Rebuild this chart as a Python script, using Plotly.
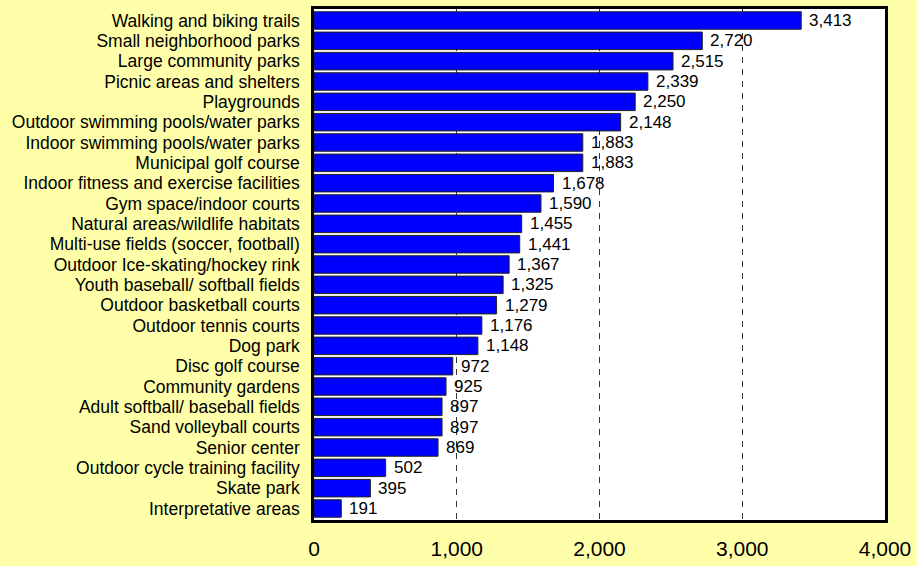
import plotly.graph_objects as go

categories = [
    "Walking and biking trails",
    "Small neighborhood parks",
    "Large community parks",
    "Picnic areas and shelters",
    "Playgrounds",
    "Outdoor swimming pools/water parks",
    "Indoor swimming pools/water parks",
    "Municipal golf course",
    "Indoor fitness and exercise facilities",
    "Gym space/indoor courts",
    "Natural areas/wildlife habitats",
    "Multi-use fields (soccer, football)",
    "Outdoor Ice-skating/hockey rink",
    "Youth baseball/ softball fields",
    "Outdoor basketball courts",
    "Outdoor tennis courts",
    "Dog park",
    "Disc golf course",
    "Community gardens",
    "Adult softball/ baseball fields",
    "Sand volleyball courts",
    "Senior center",
    "Outdoor cycle training facility",
    "Skate park",
    "Interpretative areas",
]
values = [3413, 2720, 2515, 2339, 2250, 2148, 1883, 1883, 1678, 1590, 1455, 1441,
          1367, 1325, 1279, 1176, 1148, 972, 925, 897, 897, 869, 502, 395, 191]
x_ticks = [0, 1000, 2000, 3000, 4000]
x_tick_labels = ["0", "1,000", "2,000", "3,000", "4,000"]

FONT = "Liberation Sans, Arial, sans-serif"

fig = go.Figure()
fig.add_trace(go.Bar(
    x=values,
    y=categories,
    orientation="h",
    marker=dict(color="#0000FF", line=dict(color="#222222", width=1)),
    hoverinfo="x+y",
))

for c, v in zip(categories, values):
    fig.add_annotation(
        x=v, y=c, text=f"{v:,}", showarrow=False,
        xanchor="left", yanchor="middle", xshift=6,
        font=dict(family=FONT, size=17, color="black"),
    )

fig.update_layout(
    width=917, height=566,
    margin=dict(l=314, r=30, t=6, b=35),
    paper_bgcolor="#FFFFAA",
    plot_bgcolor="white",
    bargap=0.14,
    showlegend=False,
    font=dict(family=FONT, color="black"),
)
fig.update_xaxes(
    range=[0, 4000],
    tickvals=x_ticks, ticktext=x_tick_labels,
    tickfont=dict(size=21, family=FONT, color="black"),
    showgrid=True, gridcolor="#333333", gridwidth=1, griddash="6px,6px",
    showline=True, linecolor="black", linewidth=2.5, mirror=True,
    zeroline=False, ticks="", ticklabelstandoff=8,
)
fig.update_yaxes(
    autorange="reversed",
    tickmode="array", tickvals=categories, ticktext=categories,
    tickfont=dict(size=17.5, family=FONT, color="black"),
    showline=True, linecolor="black", linewidth=2.5, mirror=True,
    showgrid=False, ticks="", ticklabelstandoff=8,
)

fig.write_html(
    "out.html",
    config={"displayModeBar": False},
    post_script="document.body.style.margin='0';document.body.style.overflow='hidden';",
)
